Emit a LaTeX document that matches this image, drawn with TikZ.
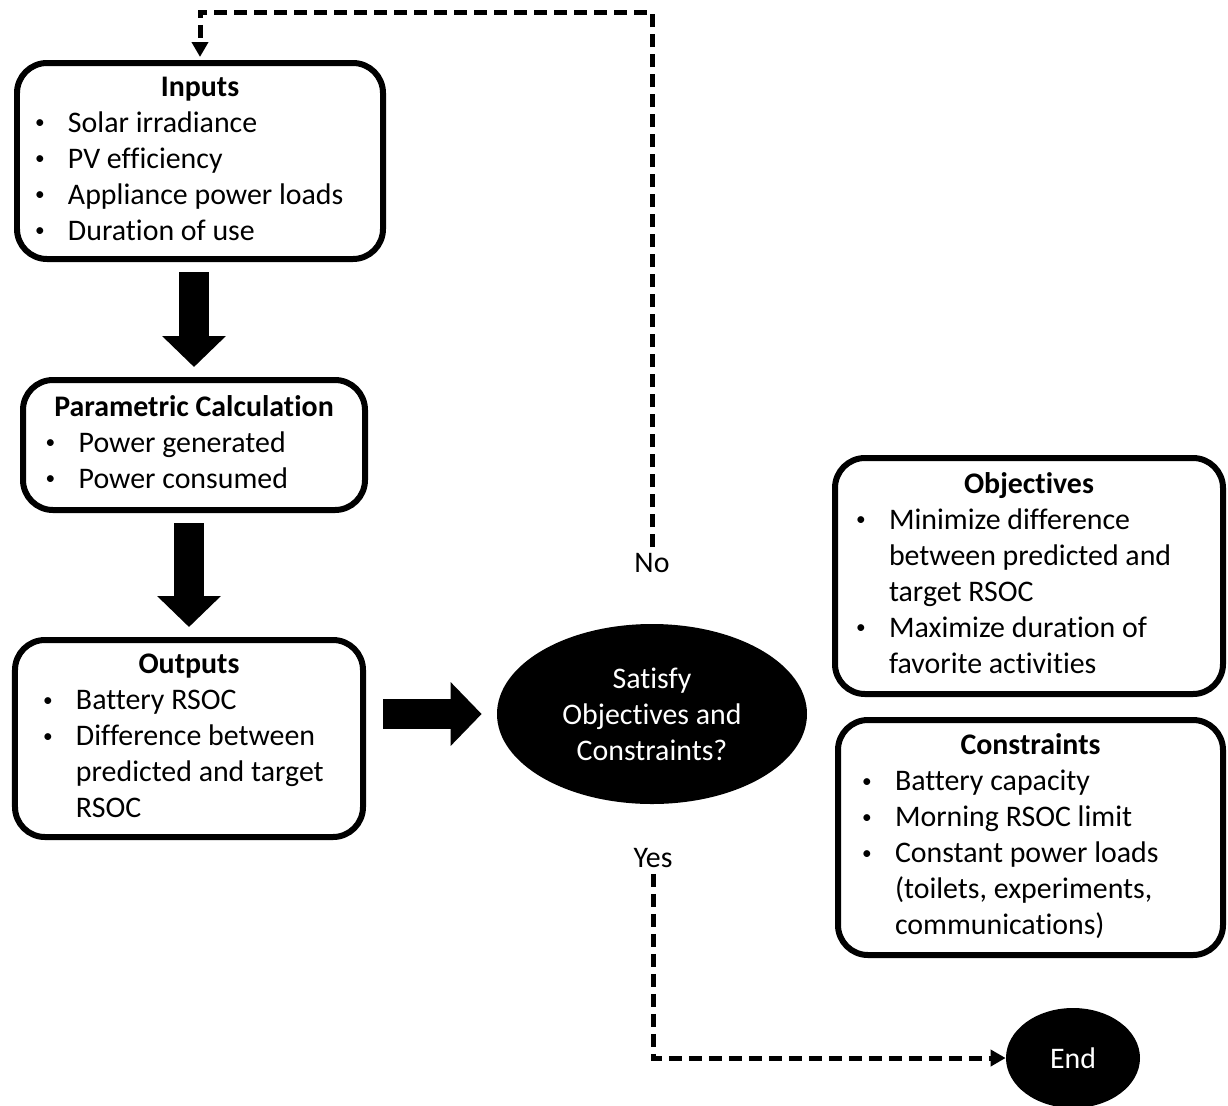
\documentclass[tikz,border=0pt]{standalone}
\usepackage{fontspec}
\setmainfont{Carlito}[Ligatures=NoCommon]
\usepackage{tikz}
\usepackage{xcolor}
\usetikzlibrary{arrows.meta,shapes.geometric,positioning}

\newcommand{\itemdot}{\hspace*{0.04cm}\raisebox{0.07cm}{\fontsize{11pt}{11pt}\selectfont\textbullet}}

\tikzset{
	box/.style={draw, line width=0.12cm, rounded corners=0.6cm, inner sep=0pt, align=center},
	blockarrow/.style={line width=0.6cm, -{Triangle[length=0.62cm,width=1.24cm]}, shorten <=0.2cm, shorten >=0.2cm},
	dashline/.style={line width=0.1cm, dash pattern=on 0.27cm off 0.13cm, -{Triangle[length=0.3cm,width=0.32cm]}},
	blob/.style={ellipse, fill=black, text=white, align=center, inner sep=0pt},
}

\begin{document}
\begin{tikzpicture}[font=\fontsize{17pt}{20.5pt}\selectfont]
			\useasboundingbox (0,0) rectangle (24.56,-22.1);
			\node[box, minimum width=7.32cm, minimum height=3.92cm] (inputs) at (4.0,-3.22) {\begin{tabular}{@{}p{0.7cm}@{}p{5.98cm}@{}}
				\multicolumn{2}{c}{\textbf{Inputs}}\\
				\itemdot & Solar irradiance\\
				\itemdot & PV efficiency\\
				\itemdot & Appliance power loads\\
				\itemdot & Duration of use
			\end{tabular}};
			\node[box, minimum width=6.84cm, minimum height=2.6cm] (param) at (3.88,-8.9) {\begin{tabular}{@{}p{0.7cm}@{}p{5.26cm}@{}}
				\multicolumn{2}{c}{\textbf{Parametric Calculation}}\\
				\itemdot & Power generated\\
				\itemdot & Power consumed
			\end{tabular}};
			\node[box, minimum width=6.96cm, minimum height=3.94cm] (outputs) at (3.78,-14.77) {\begin{tabular}{@{}p{0.7cm}@{}p{5.22cm}@{}}
				\multicolumn{2}{c}{\textbf{Outputs}}\\
				\itemdot & Battery RSOC\\
				\itemdot & Difference between\\
				& predicted and target\\
				& RSOC
			\end{tabular}};
			\node[box, minimum width=7.76cm, minimum height=4.72cm] (objectives) at (20.58,-11.52) {\begin{tabular}{@{}p{0.7cm}@{}p{6.3cm}@{}}
				\multicolumn{2}{c}{\textbf{Objectives}}\\
				\itemdot & Minimize difference\\
				& between predicted and\\
				& target RSOC\\
				\itemdot & Maximize duration of\\
				& favorite activities
			\end{tabular}};
			\node[box, minimum width=7.7cm, minimum height=4.7cm] (constraints) at (20.61,-16.75) {\begin{tabular}{@{}p{0.7cm}@{}p{6.12cm}@{}}
				\multicolumn{2}{c}{\textbf{Constraints}}\\
				\itemdot & Battery capacity\\
				\itemdot & Morning RSOC limit\\
				\itemdot & Constant power loads\\
				& (toilets, experiments,\\
				& communications)
			\end{tabular}};
			\node[blob, minimum width=6.2cm, minimum height=3.6cm] (check) at (13.04,-14.28) {Satisfy\\Objectives and\\Constraints?};
			\node[blob, minimum width=2.68cm, minimum height=2cm] (end) at (21.46,-21.16) {End};
			\node (no) at (13.04,-11.26) {No};
			\node (yes) at (13.06,-17.16) {Yes};
			\coordinate (top) at (13.0,-0.24);
			\draw[blockarrow] (param.north |- inputs.south) -- (param.north);
			\draw[blockarrow] (outputs.north |- param.south) -- (outputs.north);
			\draw[blockarrow, shorten <=0.34cm, shorten >=0.3cm] (outputs.east |- check.west) -- (check.west);
			\draw[dashline, shorten >=0.06cm] (no.north) -- (no.north |- top) -| (inputs.north);
			\draw[dashline] (yes.south) |- (end.west);
		\end{tikzpicture}
\end{document}
